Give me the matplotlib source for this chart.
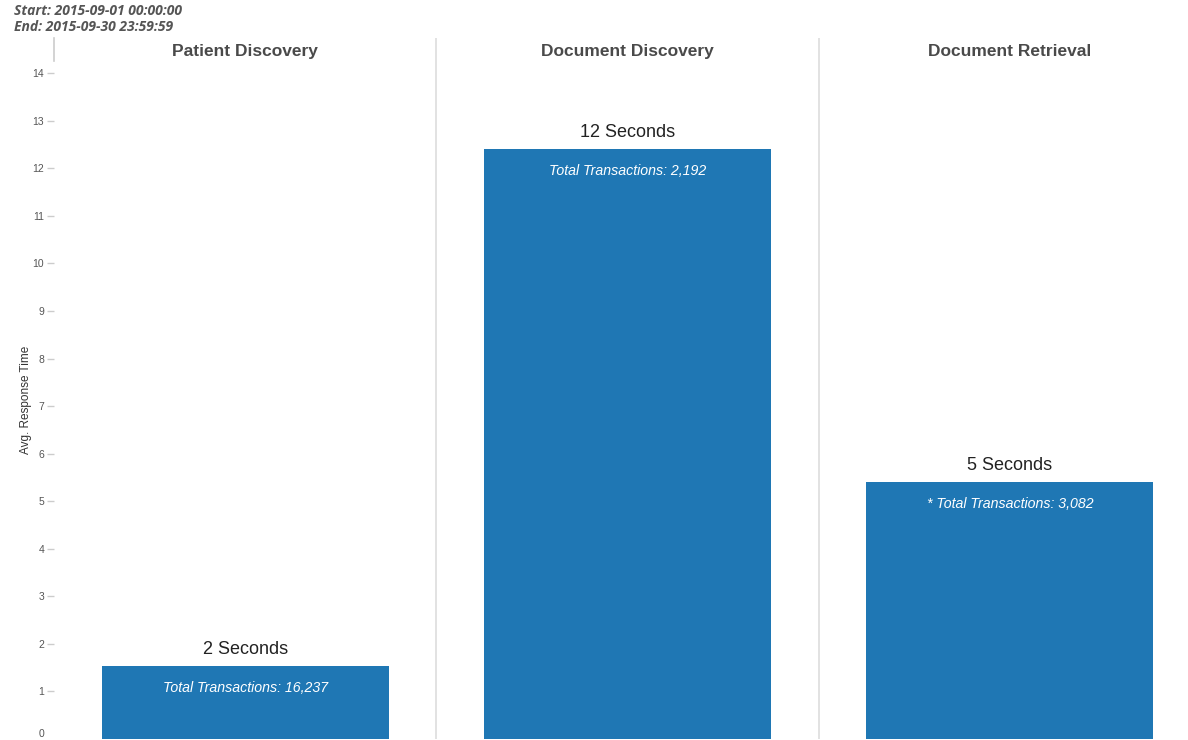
import numpy as np
import matplotlib.pyplot as plt

services = ['Patient Discovery', 'Document Discovery', 'Document Retrieval']
avg_response = [1.53, 12.40, 5.40]
response_labels = ['2 Seconds', '12 Seconds', '5 Seconds']
transaction_labels = ['Total Transactions: 16,237', 'Total Transactions: 2,192',
                      '* Total Transactions: 3,082']
y_ticks = list(range(0, 15))
start_text = 'Start: 2015-09-01 00:00:00'
end_text = 'End: 2015-09-30 23:59:59'

bar_color = '#1f77b4'

fig = plt.figure(figsize=(11.88, 7.40), dpi=100)
# axes runs a bit past the right edge, like the original panels
ax = fig.add_axes([54 / 1188, 1 / 740, 1147 / 1188, (739 - 38) / 740])

x = np.arange(len(services)) + 0.5
ax.bar(x, avg_response, width=0.75, color=bar_color, zorder=2)

ax.set_xlim(0, len(services))
ax.set_ylim(0, 14.74)

for s in ax.spines.values():
    s.set_visible(False)

# panel dividers
for i in range(1, len(services)):
    ax.axvline(i, color='#dddddd', lw=1.2, zorder=1)
ax.plot([0, 0], [14.25, 14.74], color='#cccccc', lw=1.2, clip_on=False)

ax.set_xticks([])
ax.set_yticks(y_ticks)
ax.set_yticklabels([str(t) for t in y_ticks], fontsize=7.5, color='#555555',
                   family='Liberation Sans')
ax.tick_params(axis='y', length=5, width=1, color='#cccccc', pad=2)
ticks = ax.yaxis.get_major_ticks()
ticks[0].tick1line.set_visible(False)
ticks[0].label1.set_va('bottom')

ax.set_ylabel('Avg. Response Time', fontsize=8.5, color='#333333',
              family='Liberation Sans')
ax.yaxis.set_label_coords(-22 / 1147, (739 - 400) / 701)

for xi, v, lab, tlab, name in zip(x, avg_response, response_labels,
                                  transaction_labels, services):
    ax.annotate(lab, (xi, v), xytext=(0, 6), textcoords='offset points',
                ha='center', va='bottom', fontsize=13, color='#222222',
                family='Liberation Sans')
    ax.annotate(tlab, (xi, v), xytext=(0, -15.5), textcoords='offset points',
                ha='center', va='center', fontsize=10.2, color='white',
                style='italic', family='Liberation Sans')
    ax.text(xi, 14.74 - 14 / 47.57, name, ha='center', va='center',
            fontsize=12.5, fontweight='bold', color='#4a4a4a',
            family='Liberation Sans')

fig.text(14 / 1188, 1 - 11 / 740, start_text, ha='left', va='center',
         fontsize=10, fontweight='bold', style='italic', color='#555555',
         family='Open Sans')
fig.text(14 / 1188, 1 - 27 / 740, end_text, ha='left', va='center',
         fontsize=10, fontweight='bold', style='italic', color='#555555',
         family='Open Sans')

fig.savefig('out.png', dpi=100)
